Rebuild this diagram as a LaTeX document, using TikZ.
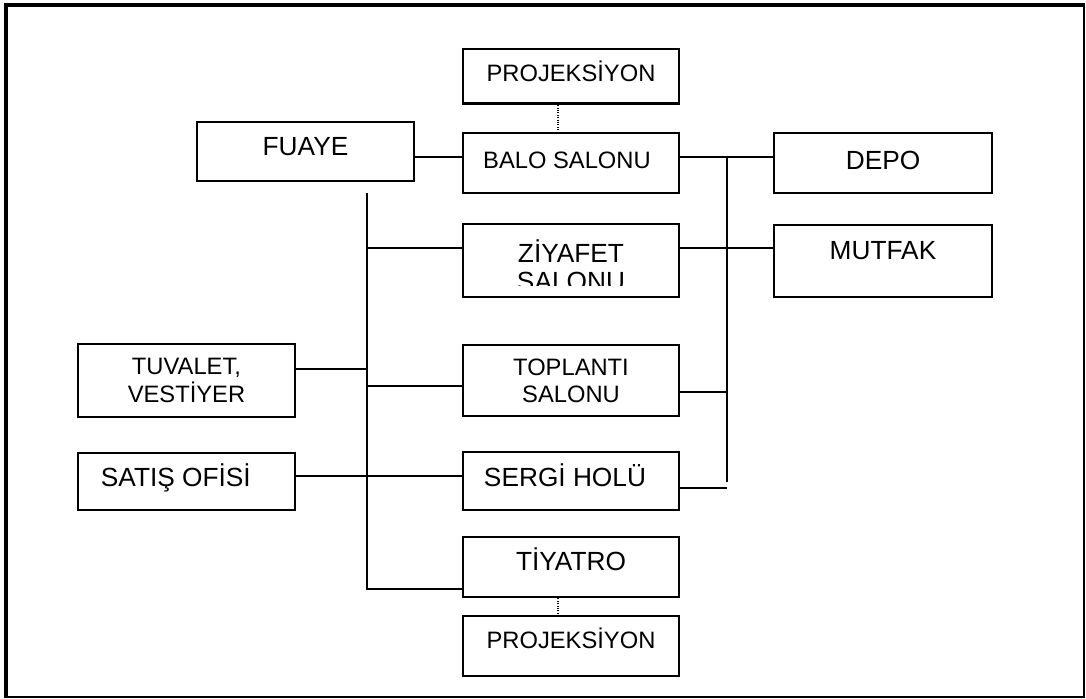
\documentclass[tikz,border=0pt]{standalone}
\usepackage{fontspec}
\setmainfont{Liberation Sans}

\begin{document}
\begin{tikzpicture}[x=0.75pt, y=-0.75pt,
  room/.style={draw, line width=2pt, minimum width=162pt, minimum height=45pt, inner sep=2pt, font=\fontsize{17.8}{20.5}\selectfont},
  big/.style={font=\fontsize{19.7}{21}\selectfont},
  oneline/.style={text height=13.4pt, text depth=#1}, oneline/.default=5pt,
  link/.style={line width=1.3pt},
  pass/.style={densely dotted, line width=0.8pt}]

\useasboundingbox (0,0) rectangle (1086,699);
%\draw[very thin,color=gray] (0,0) grid[step=50] (1086,699);
\draw[line width=1.5pt] (5,4) rectangle (1084,697);
\draw[line width=3pt] (6,697) -- (6,5) -- (1084,5);

% middle column
\node[room, oneline=5.2pt, minimum height=41pt] (projA) at (571,76.5) {PROJEKSİYON};
\node[room, oneline=4.5pt] (balo) at (571,163) {BALO SALONU\hspace*{6pt}};
\node[room, minimum height=54.75pt] (ziyafet) at (571,260.5) {};
\node[room, align=center, minimum height=53.25pt] (toplanti) at (571,380.5) {TOPLANTI\\SALONU};
\node[room, big, oneline=4.5pt, minimum height=43.5pt] (sergi) at (571,481) {SERGİ HOLÜ\hspace*{9pt}};
\node[room, big, oneline=7.5pt] (tiyatro) at (571,567) {TİYATRO};
\node[room, oneline=9pt] (projB) at (571,646) {PROJEKSİYON};

\begin{scope}
\clip (465,226) rectangle (677,285);
\node[big, align=center, inner sep=0pt] (zt) at (571,265) {ZİYAFET\\SALONU};
\end{scope}

% left column
\node[room, big, oneline=6.8pt, minimum width=162.75pt, minimum height=44.25pt] (fuaye) at (305.5,151.5) {FUAYE};
\node[room, align=center, minimum width=162.75pt, minimum height=54.75pt] (tuvalet) at (186.5,380.5) {TUVALET,\\VESTİYER};
\node[room, big, oneline=5.2pt, minimum width=162.75pt, minimum height=42.75pt] (satis) at (186.5,481.5) {SATIŞ OFİSİ\hspace*{16pt}};

% right column
\node[room, big, oneline=3pt, minimum width=163.5pt] (depo) at (883,163) {DEPO};
\node[room, big, oneline=15pt, minimum width=163.5pt, minimum height=54pt] (mutfak) at (883,261) {MUTFAK};

% junctions
\coordinate (fv) at (367,193);
\coordinate (fvb) at (367,589);
\coordinate (zj) at (367,248);
\coordinate (tj) at (367,369);
\coordinate (oj) at (367,386);
\coordinate (sj) at (367,476);
\coordinate (rb) at (727,157);
\coordinate (rbb) at (727,482);
\coordinate (oj2) at (727,392);
\coordinate (sj2) at (727,488);

\draw[link] (fuaye.east |- rb) -- (balo.west |- rb);
\draw[link] (balo.east |- rb) -- (depo.west |- rb);
\draw[link] (fv) -- (fvb) -- (tiyatro.west |- fvb);
\draw[link] (zj) -- (ziyafet.west |- zj);
\draw[link] (ziyafet.east |- zj) -- (mutfak.west |- zj);
\draw[link] (tuvalet.east |- tj) -- (tj);
\draw[link] (oj) -- (toplanti.west |- oj);
\draw[link] (satis.east |- sj) -- (sergi.west |- sj);
\draw[link] (rb) -- (rbb);
\draw[link] (toplanti.east |- oj2) -- (oj2);
\draw[link] (sergi.east |- sj2) -- (sj2);

\draw[pass] ([xshift=-9.75pt]projA.south) -- ([xshift=-9.75pt]balo.north);
\draw[pass] ([xshift=-9.75pt]tiyatro.south) -- ([xshift=-9.75pt]projB.north);

\end{tikzpicture}
\end{document}
